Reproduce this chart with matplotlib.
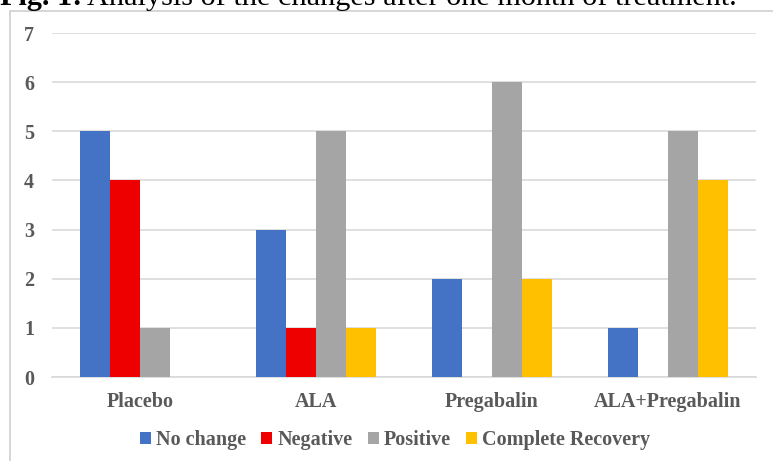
import matplotlib
matplotlib.use('Agg')
import matplotlib.pyplot as plt
from matplotlib.patches import Rectangle
import numpy as np

groups = ['Placebo', 'ALA', 'Pregabalin', 'ALA+Pregabalin']
series = ['No change', 'Negative', 'Positive', 'Complete Recovery']
no_change = [5, 3, 2, 1]
negative = [4, 1, 0, 0]
positive = [1, 5, 6, 5]
complete_recovery = [0, 1, 2, 4]
colors = ['#4472C4', '#EE0000', '#A5A5A5', '#FFC000']

plt.rcParams['font.family'] = ['Liberation Serif', 'DejaVu Serif']
txt = '#595959'

fig = plt.figure(figsize=(7.73, 4.61), dpi=100)

# chart frame and caption above it
fig.patches.append(Rectangle((10 / 773, -0.1), 1.0, 1 - 11 / 461 + 0.1,
                             transform=fig.transFigure, fill=False,
                             edgecolor='#D0D0D0', linewidth=1.2))
cap_y = 1 - 5 / 461
t1 = fig.text(0.0, cap_y, 'Fig. 1:', fontsize=21.8, fontweight='bold',
              ha='left', va='baseline')
fig.canvas.draw()
bb = t1.get_window_extent()
fig.text((bb.x1 + 5) / fig.bbox.width, cap_y,
         'Analysis of the changes after one month of treatment.',
         fontsize=21.8, ha='left', va='baseline')

ax = fig.add_axes([52 / 773, 1 - 377 / 461, 704 / 773, 344 / 461])
x = np.arange(len(groups))
w = 0.17
for i, (vals, name) in enumerate(zip([no_change, negative, positive, complete_recovery], series)):
    ax.bar(x + (i - 1.5) * w, vals, width=w, color=colors[i], label=name, zorder=3)

ax.set_xlim(-0.5, 3.5)
ax.set_ylim(0, 7)
ax.set_yticks(range(8))
ax.yaxis.grid(True, color='#D9D9D9', linewidth=1.2, zorder=0)
for s in ax.spines.values():
    s.set_visible(False)
ax.spines['bottom'].set_visible(True)
ax.spines['bottom'].set_color('#D9D9D9')
ax.spines['bottom'].set_linewidth(1.2)
ax.tick_params(length=0)
ax.set_xticks(x)
ax.set_xticklabels(groups)
for lab in ax.get_xticklabels() + ax.get_yticklabels():
    lab.set_fontweight('bold')
    lab.set_color(txt)
    lab.set_fontsize(14.5)
ax.tick_params(axis='x', pad=11)
ax.tick_params(axis='y', pad=13)

leg = fig.legend(loc='center', bbox_to_anchor=(395 / 773, 1 - 440 / 461), ncol=4,
                 frameon=False, handlelength=0.55, handleheight=0.55, handletextpad=0.25,
                 columnspacing=0.75, prop={'weight': 'bold', 'size': 14.5})
for t in leg.get_texts():
    t.set_color(txt)

fig.savefig('out.png', dpi=100)
